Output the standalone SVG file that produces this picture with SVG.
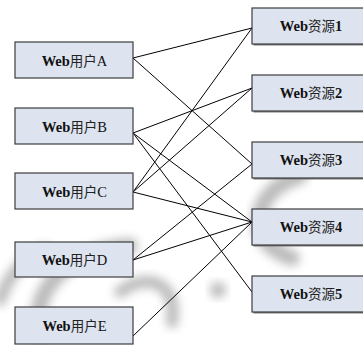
<svg xmlns="http://www.w3.org/2000/svg" width="363" height="345" viewBox="0 0 363 345">
  <defs>
    <filter id="soft" x="-30%" y="-30%" width="160%" height="160%">
      <feGaussianBlur stdDeviation="5"/>
    </filter>
    <filter id="shade" x="-10%" y="-10%" width="130%" height="140%">
      <feGaussianBlur stdDeviation="0.6"/>
    </filter>
  </defs>
  <style>
    .box { fill: #dde3ef; stroke: #3c3c3c; stroke-width: 1.2; }
    .shadow { fill: #7a7a7a; filter: url(#shade); }
    .lbl { font-family: "Liberation Serif", "Noto Sans CJK SC", serif; font-size: 14.5px; fill: #111; text-anchor: middle; }
    .b { font-weight: bold; }
    .cjk { font-family: "Noto Sans CJK SC", "Liberation Serif", serif; font-weight: normal; font-size: 13.5px; fill: #222; }
    .thin { font-weight: normal; }
    .edge { stroke: #000; stroke-width: 1; fill: none; }
    .wm { fill: none; stroke: #8f8f8f; stroke-linecap: round; filter: url(#soft); opacity: 0.6; }
  </style>

  <rect width="363" height="345" fill="#ffffff"/>

  <!-- faint background watermark -->
  <g id="watermark">
    <path class="wm" d="M40 335 C28 290 70 250 130 246" stroke-width="16"/>
    <path class="wm" d="M120 292 C150 270 178 285 172 322" stroke-width="12"/>
    <circle cx="218" cy="290" r="8" fill="#8f8f8f" opacity="0.6" filter="url(#soft)"/>
    <path class="wm" d="M300 176 C252 190 242 242 292 258" stroke-width="16"/>
    <path class="wm" d="M0 300 C10 270 30 255 45 250" stroke-width="12"/>
  </g>

  <!-- connectors: user boxes (right edge) to resource boxes (left edge) -->
  <g id="connectors">
    <line class="edge" x1="133" y1="58" x2="252" y2="28"/>
    <line class="edge" x1="133" y1="58" x2="252" y2="164"/>
    <line class="edge" x1="133" y1="133" x2="252" y2="88"/>
    <line class="edge" x1="133" y1="133" x2="252" y2="222"/>
    <line class="edge" x1="133" y1="133" x2="252" y2="292"/>
    <line class="edge" x1="133" y1="192" x2="252" y2="28"/>
    <line class="edge" x1="133" y1="192" x2="252" y2="88"/>
    <line class="edge" x1="133" y1="192" x2="252" y2="222"/>
    <line class="edge" x1="133" y1="260" x2="252" y2="164"/>
    <line class="edge" x1="133" y1="260" x2="252" y2="222"/>
    <line class="edge" x1="133" y1="336" x2="252" y2="222"/>
  </g>

  <!-- users -->
  <g id="userA">
    <rect class="box" x="15" y="42" width="118" height="36"/>
    <text class="lbl" x="74.5" y="66"><tspan class="b">Web</tspan><tspan class="cjk">用户</tspan><tspan class="thin">A</tspan></text>
  </g>
  <g id="userB">
    <rect class="box" x="15" y="108" width="118" height="36"/>
    <text class="lbl" x="74.5" y="132"><tspan class="b">Web</tspan><tspan class="cjk">用户</tspan><tspan class="thin">B</tspan></text>
  </g>
  <g id="userC">
    <rect class="box" x="15" y="173" width="118" height="36"/>
    <text class="lbl" x="74.5" y="197"><tspan class="b">Web</tspan><tspan class="cjk">用户</tspan><tspan class="thin">C</tspan></text>
  </g>
  <g id="userD">
    <rect class="box" x="15" y="242" width="118" height="35"/>
    <text class="lbl" x="74.5" y="265"><tspan class="b">Web</tspan><tspan class="cjk">用户</tspan><tspan class="thin">D</tspan></text>
  </g>
  <g id="userE">
    <rect class="box" x="15" y="307" width="118" height="37"/>
    <text class="lbl" x="74.5" y="331"><tspan class="b">Web</tspan><tspan class="cjk">用户</tspan><tspan class="thin">E</tspan></text>
  </g>

  <!-- resources (run past the right edge) -->
  <g id="res1">
    <rect class="shadow" x="253.5" y="9.5" width="112" height="36"/>
    <rect class="box" x="252" y="8" width="112" height="36"/>
    <text class="lbl b" x="311" y="31">Web<tspan class="cjk">资源</tspan>1</text>
  </g>
  <g id="res2">
    <rect class="shadow" x="253.5" y="76.5" width="112" height="36"/>
    <rect class="box" x="252" y="75" width="112" height="36"/>
    <text class="lbl b" x="311" y="98">Web<tspan class="cjk">资源</tspan>2</text>
  </g>
  <g id="res3">
    <rect class="shadow" x="253.5" y="143.5" width="112" height="36"/>
    <rect class="box" x="252" y="142" width="112" height="36"/>
    <text class="lbl b" x="311" y="165">Web<tspan class="cjk">资源</tspan>3</text>
  </g>
  <g id="res4">
    <rect class="shadow" x="253.5" y="210.5" width="112" height="36"/>
    <rect class="box" x="252" y="209" width="112" height="36"/>
    <text class="lbl b" x="311" y="232">Web<tspan class="cjk">资源</tspan>4</text>
  </g>
  <g id="res5">
    <rect class="shadow" x="253.5" y="277.5" width="112" height="36"/>
    <rect class="box" x="252" y="276" width="112" height="36"/>
    <text class="lbl b" x="311" y="299">Web<tspan class="cjk">资源</tspan>5</text>
  </g>
</svg>
